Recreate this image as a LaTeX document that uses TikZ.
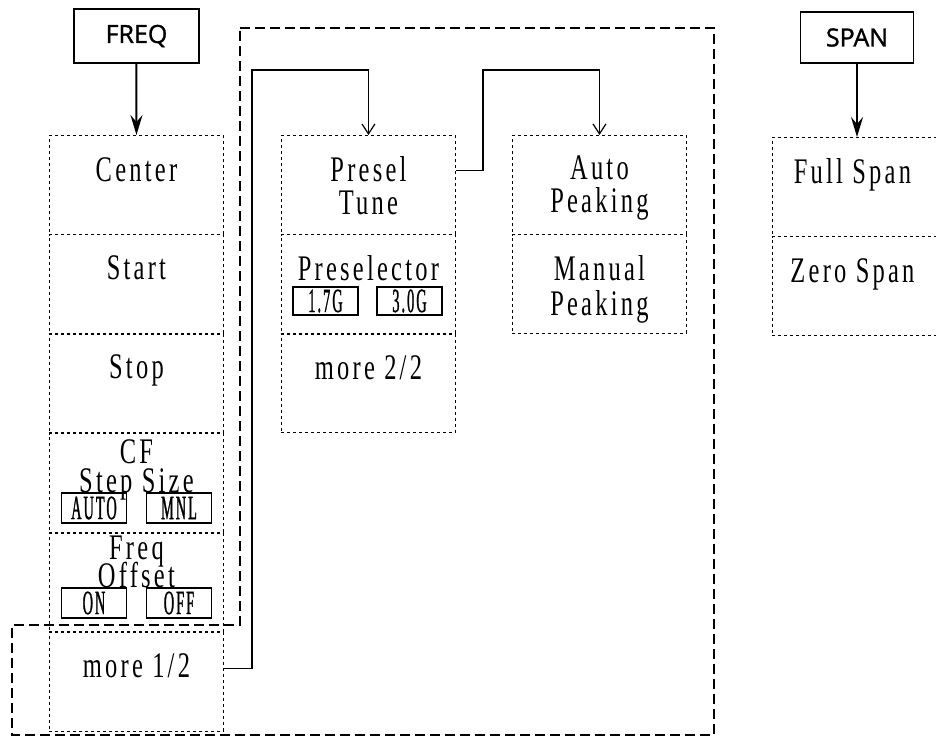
\documentclass[tikz,border=0pt]{standalone}
\usepackage{fontspec}
\usetikzlibrary{positioning, arrows.meta}
\newfontfamily\menufont[FakeStretch=0.68, LetterSpace=9]{Liberation Serif}
\newfontfamily\togglefont[FakeStretch=0.42, LetterSpace=6, FakeBold=0.8]{Liberation Serif}
\newfontfamily\keyfont[FakeBold=1.2]{Open Sans}
\tikzset{
    hardkey/.style={rectangle, draw, line width=1.8pt, inner sep=0pt,
        font=\keyfont\fontsize{25}{28}\selectfont},
    cell/.style={rectangle, draw, line width=0.9pt, dash pattern=on 3pt off 3pt,
        minimum width=174pt, minimum height=98.5pt, inner sep=0pt, anchor=north west},
    softlabel/.style={inner sep=0pt, align=center,
        font=\menufont\fontsize{36}{33}\selectfont},
    toggle/.style={rectangle, draw, line width=1.3pt, minimum width=65pt,
        minimum height=30pt, inner sep=0pt, font=\togglefont\fontsize{34}{34}\selectfont},
    region/.style={line width=2.2pt, dash pattern=on 10pt off 5pt},
    keyarrow/.style={-{Stealth[length=20pt, width=12pt, inset=7pt]}, line width=2pt},
    menuarrow/.style={-{Straight Barb[length=10pt, width=13pt]}, line width=1.2pt}
}

\begin{document}
\begin{tikzpicture}[x=1pt, y=-1pt]
    \useasboundingbox (0,0) rectangle (936,738);

    % hard keys
    \node[hardkey, minimum width=125pt, minimum height=54pt] (freq) at (136.5,36) {FREQ};
    \node[hardkey, minimum width=113pt, minimum height=51pt] (span) at (857,37.5) {SPAN};

    % FREQ menu 1/2
    \node[cell] (center) at (49,135) {};
    \node[cell, below=0pt of center] (start) {};
    \node[cell, below=0pt of start] (stop) {};
    \node[cell, below=0pt of stop] (cfstep) {};
    \node[cell, below=0pt of cfstep] (offset) {};
    \node[cell, below=0pt of offset] (more1) {};

    \node[softlabel, below=22pt of center.north] {Center};
    \node[softlabel, below=21pt of start.north] {Start};
    \node[softlabel, below=21pt of stop.north] {Stop};
    \node[softlabel, below=6pt of cfstep.north] {CF\\[-4pt]Step Size};
    \node[softlabel, below=3pt of offset.north] {Freq\\[-6pt]Offset};
    \node[softlabel, below=21pt of more1.north] {more 1/2};

    \node[toggle] (cfauto) at (94,508) {AUTO};
    \node[toggle] (cfmnl) at (179,508) {MNL};
    \node[toggle] (offon) at (94,603) {ON};
    \node[toggle] (offoff) at (179,603) {OFF};

    % FREQ menu 2/2
    \node[cell] (presel) at (281,135) {};
    \node[cell, below=0pt of presel] (selector) {};
    \node[cell, below=0pt of selector] (more2) {};

    \node[softlabel, below=21pt of presel.north] {Presel\\Tune};
    \node[softlabel, below=21pt of selector.north] {Preselector};
    \node[softlabel, below=22pt of more2.north] {more 2/2};

    \node[toggle, minimum height=28pt] (sel17) at (325.5,301) {1.7G};
    \node[toggle, minimum height=28pt] (sel30) at (409.5,301) {3.0G};

    % peaking menu
    \node[cell] (autopk) at (512,135) {};
    \node[cell, below=0pt of autopk] (manpk) {};

    \node[softlabel, below=21pt of autopk.north] {Auto\\Peaking};
    \node[softlabel, below=21pt of manpk.north] {Manual\\[2pt]Peaking};

    % SPAN menu
    \node[cell] (fullspan) at (772,137) {};
    \node[cell, below=0pt of fullspan] (zerospan) {};

    \node[softlabel, below=21pt of fullspan.north, xshift=-7pt] {Full Span};
    \node[softlabel, below=22pt of zerospan.north, xshift=-7pt] {Zero Span};

    % region of menu 2/2
    \draw[region] (240,28) -- (714,28) -- (714,735) -- (12,735) -- (12,625) -- (240,625) -- cycle;

    \coordinate (up1) at (252,70);
    \coordinate (up2) at (483,70);

    \draw[keyarrow] (freq) -- (center);
    \draw[keyarrow] (span) -- (fullspan.north -| span);
    \draw[menuarrow] ([yshift=13pt]more1.east) -| (up1) -| (presel.north);
    \draw[menuarrow] ([yshift=14pt]presel.east) -| (up2) -| (autopk.north);

\end{tikzpicture}
\end{document}
